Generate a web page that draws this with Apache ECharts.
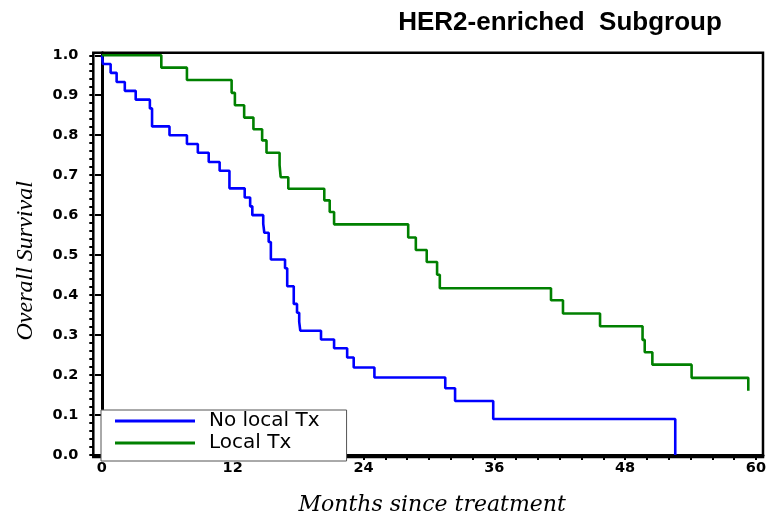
<!DOCTYPE html>
<html>
<head>
<meta charset="utf-8">
<script src="https://cdn.jsdelivr.net/npm/echarts@6/dist/echarts.min.js"></script>
<style>html,body{margin:0;padding:0;background:#fff}#c{width:769px;height:521px}</style>
</head>
<body>
<div id="c"></div>
<script>
const titleText = 'HER2-enriched  Subgroup';
const xTitle = 'Months since treatment';
const yTitle = 'Overall Survival';
const seriesNames = ['No local Tx', 'Local Tx'];
const xTickLabels = [0, 12, 24, 36, 48, 60];
const xMinorTicks = [0,2,4,6,8,10,12,14,16,18,20,22,24,26,28,30,32,34,36,38,40,42,44,46,48,50,52,54,56,58,60];
const yTickLabels = [0,0.1,0.2,0.3,0.4,0.5,0.6,0.7,0.8,0.9,1.0];
const yMinorTicks = [0,0.02,0.04,0.06,0.08,0.1,0.12,0.14,0.16,0.18,0.2,0.22,0.24,0.26,0.28,0.3,0.32,0.34,0.36,0.38,0.4,0.42,0.44,0.46,0.48,0.5,0.52,0.54,0.56,0.58,0.6,0.62,0.64,0.66,0.68,0.7,0.72,0.74,0.76,0.78,0.8,0.82,0.84,0.86,0.88,0.9,0.92,0.94,0.96,0.98,1.0];

const noLocalMonths = [0,0.1,0.8,1.35,2.1,3.1,4.4,4.6,6.2,7.8,8.8,9.8,10.8,11.7,13.1,13.6,13.8,14.8,14.9,15.3,15.5,16.8,17.0,17.6,17.9,18.1,18.2,20.1,21.3,22.5,23.1,25.0,31.5,32.4,35.9,52.6];
const noLocalSurv   = [1.0,0.978,0.956,0.933,0.911,0.889,0.867,0.822,0.80,0.778,0.756,0.733,0.711,0.667,0.644,0.622,0.60,0.578,0.556,0.533,0.489,0.467,0.422,0.378,0.356,0.333,0.311,0.289,0.267,0.244,0.219,0.194,0.167,0.135,0.09,0.0];

const localMonths = [0,5.45,7.8,11.9,12.2,13.05,13.9,14.7,15.1,16.3,16.4,17.1,20.4,20.9,21.3,28.1,28.8,29.8,30.75,31.0,41.2,42.3,45.7,49.6,49.8,50.5,54.1,59.3];
const localSurv   = [1.0,0.969,0.938,0.906,0.875,0.844,0.815,0.787,0.756,0.725,0.695,0.666,0.637,0.608,0.577,0.544,0.513,0.483,0.451,0.417,0.387,0.354,0.322,0.288,0.257,0.226,0.193,0.161];

const zip = (a, b) => a.map((v, i) => [v, b[i]]);

const chart = echarts.init(document.getElementById('c'), null, {renderer: 'canvas'});
const tickFont = {fontFamily: 'DejaVu Sans', fontWeight: 'bold', fontSize: 14.5, color: '#000'};
chart.setOption({
  animation: false,
  backgroundColor: '#fff',
  title: {
    text: titleText, left: 555, top: 5, textAlign: 'center',
    textStyle: {fontFamily: 'Liberation Sans', fontWeight: 'bold', fontSize: 26, color: '#000'}
  },
  legend: {
    orient: 'vertical', left: 101, top: 410,
    padding: [1, 27, 8, 14], itemGap: 2,
    itemWidth: 80, itemHeight: 3, icon: 'rect',
    borderColor: '#555', borderWidth: 1, backgroundColor: '#fff',
    textStyle: {fontFamily: 'DejaVu Sans', fontSize: 20, lineHeight: 20, color: '#000', padding: [0,0,0,9]},
    data: seriesNames
  },
  grid: {left: 93.3, right: 2.3, top: 52.7, bottom: 60, show: true, borderColor: '#000', borderWidth: 2.5, backgroundColor: 'transparent'},
  xAxis: [{
    type: 'value', min: -0.79, max: 60.65,
    name: xTitle, nameLocation: 'middle', nameGap: 37,
    nameTextStyle: {fontFamily: 'DejaVu Serif', fontStyle: 'italic', fontSize: 22, color: '#000', padding: [0,0,0,8]},
    axisLine: {show: true, lineStyle: {color: '#000', width: 3}},
    axisTick: {show: true, customValues: xMinorTicks, length: 5, lineStyle: {color: '#000', width: 2}},
    axisLabel: Object.assign({customValues: xTickLabels, margin: 4}, tickFont),
    splitLine: {show: false}
  }],
  yAxis: [{
    type: 'value', min: -0.005, max: 1.0064,
    name: yTitle, nameLocation: 'middle', nameGap: 56,
    nameTextStyle: {fontFamily: 'Liberation Serif', fontStyle: 'italic', fontSize: 24, color: '#000', padding: [0,12,0,0]},
    axisLine: {show: true, lineStyle: {color: '#000', width: 3}},
    axisTick: {show: true, customValues: yTickLabels, length: 7, lineStyle: {color: '#000', width: 2}},
    axisLabel: Object.assign({customValues: yTickLabels, margin: 15, formatter: v => v.toFixed(1)}, tickFont),
    splitLine: {show: false}
  }, {
    type: 'value', min: -0.005, max: 1.0064, position: 'left',
    axisLine: {show: false},
    axisTick: {show: true, customValues: yMinorTicks, length: 4, lineStyle: {color: '#000', width: 2}},
    axisLabel: {show: false},
    splitLine: {show: false}
  }],
  series: [{
    name: seriesNames[0], type: 'line', step: 'end', showSymbol: false,
    xAxisIndex: 0, yAxisIndex: 0, z: 3,
    itemStyle: {color: '#0000FF'},
    lineStyle: {color: '#0000FF', width: 2.6},
    data: zip(noLocalMonths, noLocalSurv)
  }, {
    name: seriesNames[1], type: 'line', step: 'end', showSymbol: false,
    xAxisIndex: 0, yAxisIndex: 0, z: 3,
    itemStyle: {color: '#008000'},
    lineStyle: {color: '#008000', width: 2.6},
    data: zip(localMonths, localSurv)
  }]
});
</script>
</body>
</html>
